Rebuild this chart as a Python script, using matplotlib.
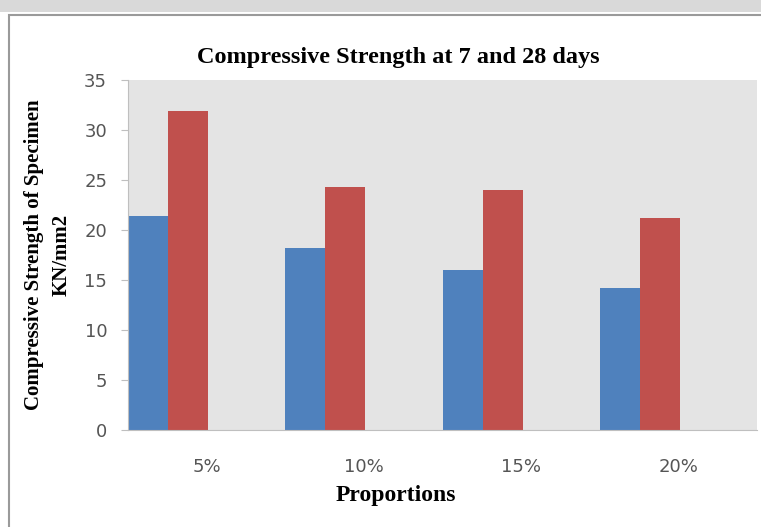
import matplotlib.pyplot as plt
import matplotlib.patches as mpatches
import numpy as np

# Data
proportions = ['5%', '10%', '15%', '20%']
days_7 = [21.4, 18.2, 16.0, 14.2]
days_28 = [31.9, 24.3, 24.0, 21.2]

W, H = 761, 527
fig = plt.figure(figsize=(W / 100, H / 100), dpi=100)
fig.patch.set_facecolor('white')

# faint watermark band at the very top and the chart-area border
fig.patches.append(mpatches.Rectangle((0, 1 - 12 / H), 1, 12 / H, transform=fig.transFigure,
                                      facecolor='#d9d9d9', edgecolor='none', zorder=-2))
fig.patches.append(mpatches.Rectangle((9 / W, -0.1), 1.1, 1.1 - 15 / H, transform=fig.transFigure,
                                      facecolor='white', edgecolor='#9a9a9a', linewidth=1.5, zorder=-1))

# plot area: x 128..757 px, y 80..430 px
L, R = 128, 757
ax = fig.add_axes([L / W, 1 - 430 / H, (R - L) / W, (430 - 80) / H])
ax.set_zorder(2)
ax.set_facecolor('#e4e4e4')

x = np.arange(len(proportions))
w = 0.255
ax.bar(x - 0.5, days_7, width=w, align='edge', color='#4f81bd', zorder=2)
ax.bar(x - 0.5 + w, days_28, width=w, align='edge', color='#c0504d', zorder=2)

ax.set_xlim(-0.5, len(proportions) - 0.5)
ax.set_ylim(0, 35)
ax.set_yticks(range(0, 36, 5))
ax.set_xticks(x)
ax.set_xticklabels(proportions)

for s in ['top', 'right']:
    ax.spines[s].set_visible(False)
ax.spines['left'].set_color('#bfbfbf')
ax.spines['bottom'].set_color('#bfbfbf')
ax.tick_params(axis='y', direction='out', length=5, color='#bfbfbf', labelcolor='#555555',
               labelsize=13, pad=10)
ax.tick_params(axis='x', length=0, labelcolor='#555555', labelsize=13, pad=20)

ax.set_xlabel('Proportions', family='Liberation Serif', fontweight='bold', fontsize=17)
ax.xaxis.set_label_coords((396 - L) / (R - L), -55 / 350)
ax.set_ylabel('Compressive Strength of Specimen\nKN/mm2', family='Liberation Serif',
              fontweight='bold', fontsize=15, linespacing=1.55)
ax.yaxis.set_label_coords((72 - L) / (R - L), 0.5)

fig.text(398 / W, 1 - 58 / H, 'Compressive Strength at 7 and 28 days', family='Liberation Serif',
         fontweight='bold', fontsize=17.5, ha='center', va='center')

fig.savefig('out.png', dpi=100)
